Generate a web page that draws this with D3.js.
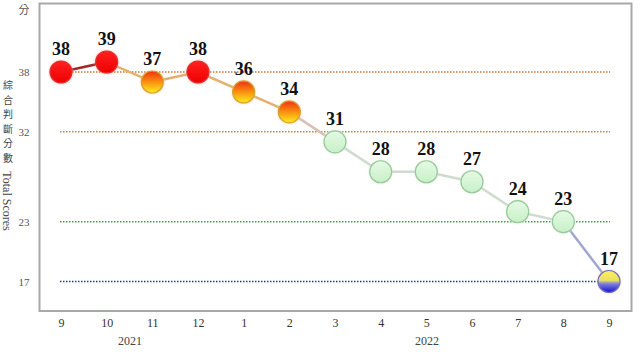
<!DOCTYPE html>
<html><head><meta charset="utf-8">
<script src="https://cdn.jsdelivr.net/npm/d3@7"></script>
<style>body{margin:0;background:#fff}svg{display:block}</style>
</head><body>
<svg id="c" width="640" height="359"></svg>
<script>
const months = ["9","10","11","12","1","2","3","4","5","6","7","8","9"];
const scores = [38,39,37,38,36,34,31,28,28,27,24,23,17];
const kinds  = ["red","red","orange","red","orange","orange","green","green","green","green","green","green","blue"];
const refLines = [38,32,23,17];
const refColors = ["#c8763a","#b08a40","#4a9a4a","#2a3a8a"];
const yTicks = [38,32,23,17];
const years = [{label:"2021", at:1.5},{label:"2022", at:8}];

const svg = d3.select("#c");
const serif = "'Liberation Serif','Times New Roman',serif";
const x = d3.scalePoint().domain(d3.range(months.length)).range([61,609]);
const y = d3.scaleLinear().domain([17,38]).range([281.5,72]);

const defs = svg.append("defs");
function grad(id, stops){
  const g = defs.append("linearGradient").attr("id",id).attr("x1",0).attr("y1",0).attr("x2",0).attr("y2",1);
  stops.forEach(s=>g.append("stop").attr("offset",s[0]).attr("stop-color",s[1]));
}
grad("gOrange",[[0,"#f03010"],[0.55,"#fa9a10"],[1,"#ffee20"]]);
grad("gBlue",[[0,"#fff060"],[0.45,"#e8e060"],[0.6,"#8080e0"],[1,"#1010d0"]]);
grad("gGreen",[[0,"#e4fae4"],[1,"#c8f0c8"]]);
grad("gRed",[[0,"#ff2020"],[1,"#ee0000"]]);
const blur = defs.append("filter").attr("id","sh").attr("x","-50%").attr("y","-50%").attr("width","200%").attr("height","200%");
blur.append("feGaussianBlur").attr("stdDeviation",1.2);

// frame
svg.append("rect").attr("x",39.5).attr("y",3.5).attr("width",592).attr("height",307.5)
  .attr("fill","none").attr("stroke","#a8a8a8").attr("stroke-width",2);

// reference lines
svg.selectAll(".ref").data(refLines).join("line")
  .attr("x1",60).attr("x2",610).attr("y1",d=>y(d)).attr("y2",d=>y(d))
  .attr("stroke",(d,i)=>refColors[i]).attr("stroke-width",1.5).attr("stroke-dasharray","1.5,1.5");

// y ticks
svg.selectAll(".yt").data(yTicks).join("text")
  .attr("x",24).attr("y",d=>y(d)+4).attr("text-anchor","middle")
  .attr("font-family",serif).attr("font-size",11).attr("fill","#555").text(d=>d);
svg.append("text").attr("x",24).attr("y",14).attr("text-anchor","middle")
  .attr("font-family","'Noto Sans CJK TC'").attr("font-size",11).attr("fill","#555").text("分");
// vertical title
const title = "綜合判斷分數".split("");
svg.selectAll(".vt").data(title).join("text")
  .attr("x",8).attr("y",(d,i)=>89+i*14.6).attr("text-anchor","middle")
  .attr("font-family","'Noto Sans CJK TC'").attr("font-size",10).attr("fill","#444").text(d=>d);
svg.append("text").attr("transform","translate(3,201) rotate(90)").attr("text-anchor","middle")
  .attr("font-family",serif).attr("font-size",12).attr("fill","#444").text("Total Scores");

// x axis labels
const xa = svg.append("g").attr("transform","translate(0,311)")
  .call(d3.axisBottom(x).tickSize(0).tickPadding(7).tickFormat(i=>months[i]));
xa.select(".domain").remove();
xa.selectAll("text").attr("font-family",serif).attr("font-size",12).attr("fill","#333");
svg.selectAll(".yr").data(years).join("text")
  .attr("x",d=>d.label==="2021"?130:427).attr("y",345).attr("text-anchor","middle")
  .attr("font-family",serif).attr("font-size",12).attr("fill","#444").text(d=>d.label);

// line segments
const segColor = i => {
  const a = kinds[i], b = kinds[i+1];
  if (a==="red" && b==="red") return "#a02828";
  if (b==="blue") return "#a0a8d0";
  if (a==="green" && b==="green") return "#cddccd";
  if (b==="green") return "#dcc0b8";
  return "#e4b070";
};
const segs = d3.range(scores.length-1);
svg.selectAll(".seg").data(segs).join("line")
  .attr("x1",i=>x(i)).attr("y1",i=>y(scores[i])).attr("x2",i=>x(i+1)).attr("y2",i=>y(scores[i+1]))
  .attr("stroke",segColor).attr("stroke-width",2.5).attr("stroke-linecap","round");

// circles
const fillOf = k => k==="red"?"url(#gRed)":k==="orange"?"url(#gOrange)":k==="green"?"url(#gGreen)":"url(#gBlue)";
const strokeOf = k => k==="red"?"#e03030":k==="orange"?"#d8a030":k==="green"?"#98c898":"#7070c0";
svg.selectAll(".glow").data(scores).join("circle")
  .attr("cx",(d,i)=>x(i)).attr("cy",d=>y(d)).attr("r",12)
  .attr("fill",(d,i)=>kinds[i]==="green"?"#d8e8d8":kinds[i]==="red"?"#f8a0a0":"#f0d0a0").attr("opacity",0.6).attr("filter","url(#sh)");
svg.selectAll(".pt").data(scores).join("circle")
  .attr("cx",(d,i)=>x(i)).attr("cy",d=>y(d)).attr("r",11)
  .attr("fill",(d,i)=>fillOf(kinds[i])).attr("stroke",(d,i)=>strokeOf(kinds[i])).attr("stroke-width",1.2);

// value labels
svg.selectAll(".lb").data(scores).join("text")
  .attr("x",(d,i)=>x(i)).attr("y",d=>y(d)-17).attr("text-anchor","middle")
  .attr("font-family",serif).attr("font-weight","bold").attr("font-size",18).attr("fill","#111").text(d=>d);
</script>
</body></html>
